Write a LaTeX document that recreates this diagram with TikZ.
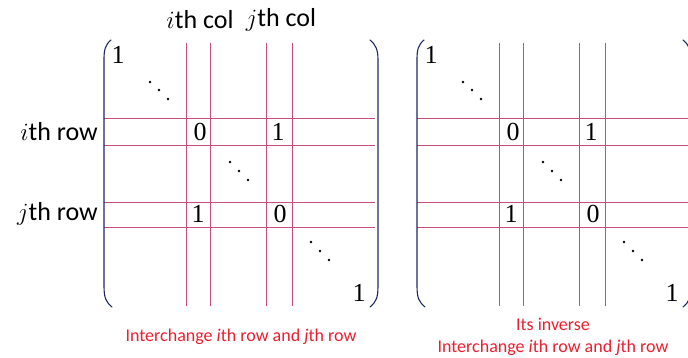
\documentclass[tikz,border=0pt]{standalone}
\usepackage{fontspec}
\setmainfont{Liberation Serif}
\setsansfont{Carlito}
\definecolor{gridpink}{rgb}{0.78,0.30,0.50}
\definecolor{parblue}{rgb}{0.12,0.16,0.38}
\definecolor{capred}{rgb}{0.93,0.12,0.18}

\tikzset{
  gridline/.style={color=gridpink,line width=0.7pt},
  paren/.style={color=parblue,line width=1.1pt,line cap=round},
  entry/.style={inner sep=0pt,font=\fontsize{26}{26}\selectfont},
  lbl/.style={inner sep=0pt,font=\sffamily\fontsize{26}{26}\selectfont},
  caption/.style={inner sep=0pt,align=center,text=capred,font=\sffamily\fontsize{18}{22}\selectfont}
}

\begin{document}
\begin{tikzpicture}[x=1pt,y=-1pt,line join=round]
    \useasboundingbox (0,0) rectangle (688,358);
    % the two permutation matrices, the second shifted right
    \foreach \m/\dx in {a/0,b/313}{
    \begin{scope}[xshift=\dx]
    \draw [gridline] (186,43) -- (186,306);
    \draw [gridline] (210,43) -- (210,306);
    \draw [gridline] (266,43) -- (266,306);
    \draw [gridline] (292,43) -- (292,306);
    \draw [gridline] (104,118) -- (375,118);
    \draw [gridline] (104,145) -- (375,145);
    \draw [gridline] (104,202) -- (375,202);
    \draw [gridline] (104,227) -- (375,227);
    \draw [paren] (111,40) .. controls (105,45) and (104,50) .. (104,60) -- (104,286) .. controls (104,298) and (106,302) .. (112,307);
    \draw [paren] (370,40) .. controls (376,45) and (378,50) .. (378,60) -- (378,286) .. controls (378,298) and (376,302) .. (370,307);
    \node[entry] (\m-tl) at (118,55) {1};
    \node[entry] (\m-ii) at (200,132) {0};
    \node[entry] (\m-ij) at (278,132) {1};
    \node[entry] (\m-ji) at (198,214) {1};
    \node[entry] (\m-jj) at (280,214) {0};
    \node[entry] (\m-br) at (359,293) {1};
    \foreach \cx/\cy in {150/82,159/90,168/99,230/162,239/171,248/180,311/242,320/251,329/260}
      \fill (\cx,\cy) circle (1.3pt);
    \end{scope}
    }
    \node[lbl] (icol) at (200,20) {$i$th col};
    \node[lbl] (jcol) at (281,20) {$j$th col};
    \node[lbl,anchor=east] (irow) at (98,132) {$i$th row};
    \node[lbl,anchor=east] (jrow) at (98,214) {$j$th row};
    \node[caption] (capa) at (241,337) {Interchange \textit{i}th row and \textit{j}th row};
    \node[caption] (capb) at (553,337) {Its inverse\\Interchange \textit{i}th row and \textit{j}th row};
\end{tikzpicture}
\end{document}
